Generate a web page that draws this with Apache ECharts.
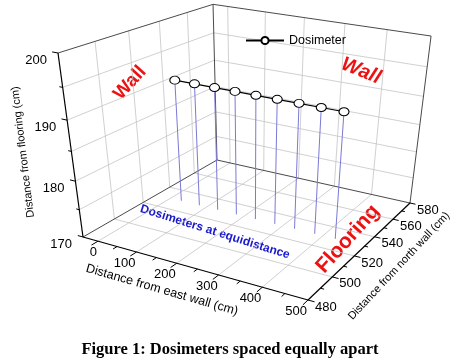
<!DOCTYPE html>
<html><head><meta charset="utf-8">
<script src="https://cdn.jsdelivr.net/npm/echarts@6/dist/echarts.min.js"></script>
<style>html,body{margin:0;padding:0;background:#fff}#c{width:460px;height:360px}</style>
</head><body><div id="c"></div>
<script>
// ---- data ----
const xTicks = [0, 100, 200, 300, 400, 500];
const xMinorTicks = [50, 150, 250, 350, 450];
const yTicks = [480, 500, 520, 540, 560, 580];
const yMinorTicks = [490, 510, 530, 550, 570];
const zTicks = [170, 180, 190, 200];
const zMinorTicks = [175, 185, 195];
const zGridLevels = [175, 180, 185, 190, 195];
const xRange = [-40, 500];
const yRange = [480, 580];
const zRange = [170, 200];
const seriesName = 'Dosimeter';
const dosimeterX = [30, 80, 130, 180, 230, 280, 330, 380, 430];
const dosimeterY = [530, 530, 530, 530, 530, 530, 530, 530, 530];
const dosimeterZ = [192, 192, 192, 192, 192, 192, 192, 192, 192];

// ---- perspective camera: homogeneous 3x4 map of the normalised box ----
const CAM = [
  [83, 191.89, 182.30, -32.54],
  [237, 30.75, -41.38, -190.89],
  [1, -0.1075, 0.2226, -0.13]
];
function project(x, y, z) {
  const u = (x - xRange[0]) / (xRange[1] - xRange[0]);
  const v = (y - yRange[0]) / (yRange[1] - yRange[0]);
  const w = (z - zRange[0]) / (zRange[1] - zRange[0]);
  const h = CAM.map(r => r[0] + r[1] * u + r[2] * v + r[3] * w);
  return [h[0] / h[2], h[1] / h[2]];
}

// ---- segments of the 3D box: [x1,y1,z1,x2,y2,z2,kind] kind 0 grid,1 edge,2 axis,3 tick ----
const [x0, x1] = xRange, [y0, y1] = yRange, [z0, z1] = zRange;
const segs = [];
xTicks.filter(x => x < x1).forEach(x => segs.push([x, y0, z0, x, y1, z0, 0]));
yTicks.filter(y => y > y0 && y < y1).forEach(y => segs.push([x0, y, z0, x1, y, z0, 0]));
yTicks.filter(y => y > y0 && y < y1).forEach(y => segs.push([x0, y, z0, x0, y, z1, 0]));
zGridLevels.forEach(z => segs.push([x0, y0, z, x0, y1, z, 0]));
xTicks.filter(x => x < x1).forEach(x => segs.push([x, y1, z0, x, y1, z1, 0]));
zGridLevels.forEach(z => segs.push([x0, y1, z, x1, y1, z, 0]));
segs.push([x0, y0, z0, x0, y1, z0, 1]);
segs.push([x0, y1, z0, x1, y1, z0, 1]);
segs.push([x0, y1, z0, x0, y1, z1, 1]);
segs.push([x1, y1, z0, x1, y1, z1, 1]);
segs.push([x0, y0, z1, x0, y1, z1, 1]);
segs.push([x0, y1, z1, x1, y1, z1, 1]);
segs.push([x0, y0, z0, x1, y0, z0, 2]);
segs.push([x1, y0, z0, x1, y1, z0, 2]);
segs.push([x0, y0, z0, x0, y0, z1, 2]);
xTicks.forEach(x => segs.push([x, y0, z0, x, y0 - 4, z0, 3]));
xMinorTicks.forEach(x => segs.push([x, y0, z0, x, y0 - 2.5, z0, 3]));
yTicks.forEach(y => segs.push([x1, y, z0, x1 + 14, y, z0, 3]));
yMinorTicks.forEach(y => segs.push([x1, y, z0, x1 + 8, y, z0, 3]));
zTicks.forEach(z => segs.push([x0, y0, z, x0 - 14, y0, z, 3]));
zMinorTicks.forEach(z => segs.push([x0, y0, z, x0 - 8, y0, z, 3]));

const segStyle = [
  { stroke: '#c4c4c4', lineWidth: 0.8 },
  { stroke: '#4a4a4a', lineWidth: 1 },
  { stroke: '#000', lineWidth: 1.2 },
  { stroke: '#000', lineWidth: 1 }
];

const tickLabels = [];
xTicks.forEach(x => tickLabels.push([x, y0, z0, String(x), 0]));
yTicks.forEach(y => tickLabels.push([x1, y, z0, String(y), 1]));
zTicks.forEach(z => tickLabels.push([x0, y0, z, String(z), 2]));

const dropData = dosimeterX.map((x, i) => [x, dosimeterY[i], dosimeterZ[i]]);
const lineData = dosimeterX.map((x, i) => project(x, dosimeterY[i], dosimeterZ[i]));

const FONT = 'Liberation Sans, Arial, sans-serif';
const chart = echarts.init(document.getElementById('c'), null, { renderer: 'canvas' });

function segRender(params, api) {
  const d = segs[params.dataIndex];
  const a = api.coord(project(d[0], d[1], d[2]));
  const b = api.coord(project(d[3], d[4], d[5]));
  return { type: 'line', shape: { x1: a[0], y1: a[1], x2: b[0], y2: b[1] }, style: segStyle[d[6]], silent: true };
}
function labelRender(params, api) {
  const d = tickLabels[params.dataIndex];
  const p = api.coord(project(d[0], d[1], d[2]));
  let x = p[0], y = p[1], align = 'right';
  if (d[4] === 0) { x -= 1; y += 11; }
  else if (d[4] === 1) { x += 7; y += 7; align = 'left'; }
  else { x -= 11; y += 7; }
  return { type: 'text', x: x, y: y, style: { text: d[3], font: '13px ' + FONT, fill: '#000', align: align, verticalAlign: 'middle' }, silent: true };
}
function dropRender(params, api) {
  const d = dropData[params.dataIndex];
  const a = api.coord(project(d[0], d[1], d[2]));
  const b = api.coord(project(d[0], d[1], zRange[0]));
  return { type: 'line', shape: { x1: a[0], y1: a[1], x2: b[0], y2: b[1] }, style: { stroke: '#7a7ad6', lineWidth: 1 }, silent: true };
}

function txt(text, x, y, deg, font, fill) {
  return { type: 'text', x: x, y: y, rotation: deg * Math.PI / 180, silent: true,
    style: { text: text, font: font, fill: fill, align: 'center', verticalAlign: 'middle' } };
}

chart.setOption({
  animation: false,
  backgroundColor: '#fff',
  title: {
    text: 'Figure 1: Dosimeters spaced equally apart',
    left: 'center', top: 336,
    textStyle: { fontFamily: 'Liberation Serif, Times New Roman, serif', fontWeight: 'bold', fontSize: 16.5, color: '#000' }
  },
  legend: {
    data: [seriesName], left: 240, top: 29, itemWidth: 38, itemHeight: 9, itemGap: 4,
    textStyle: { fontFamily: FONT, fontSize: 12.5, color: '#000' }
  },
  grid: { left: 0, right: 0, top: 0, bottom: 0 },
  xAxis: { type: 'value', min: 0, max: 460, show: false },
  yAxis: { type: 'value', min: 0, max: 360, inverse: true, show: false },
  series: [
    { type: 'custom', renderItem: segRender, data: segs.map((s, i) => i), silent: true, z: 1 },
    { type: 'custom', renderItem: labelRender, data: tickLabels.map((s, i) => i), silent: true, z: 2 },
    { type: 'custom', renderItem: dropRender, data: dropData.map((s, i) => i), silent: true, z: 3 },
    {
      name: seriesName, type: 'line', data: lineData, z: 4,
      symbol: 'circle', symbolSize: [10, 8],
      lineStyle: { color: '#000', width: 1.2 },
      itemStyle: { color: '#fff', borderColor: '#000', borderWidth: 1 }
    }
  ],
  graphic: [
    txt('Wall', 130, 83, 48, 'bold 19px ' + FONT, '#ee1111'),
    txt('Wall', 361, 71, -22, 'italic bold 20px ' + FONT, '#ee1111'),
    txt('Flooring', 348, 239, 48, 'bold 21px ' + FONT, '#ee1111'),
    txt('Dosimeters at equidistance', 215, 232, -17.5, 'bold 12px ' + FONT, '#1a1acc'),
    txt('Distance from flooring (cm)', 23, 152, 97, '11px ' + FONT, '#000'),
    txt('Distance from east wall (cm)', 162, 290, -16, '12.5px ' + FONT, '#000'),
    txt('Distance from north wall (cm)', 399, 266, 47, '11px ' + FONT, '#000')
  ]
});
</script>
</body></html>
